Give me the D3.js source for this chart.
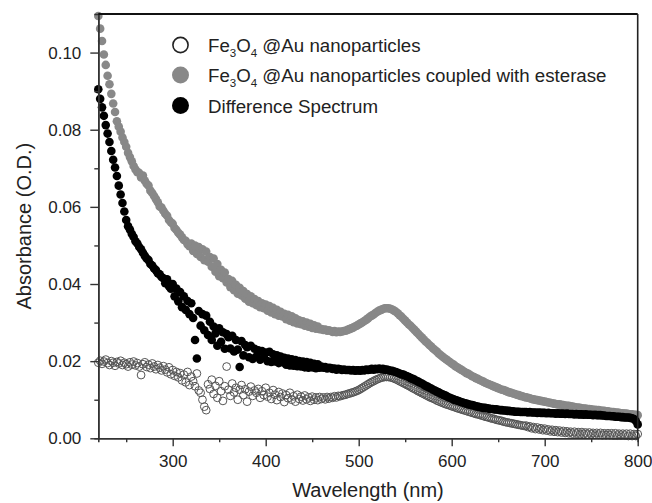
<!DOCTYPE html>
<html><head><meta charset="utf-8">
<script src="https://cdn.jsdelivr.net/npm/d3@7"></script>
<style>body{margin:0;background:#fff}svg{display:block}</style>
</head><body>
<script>
// Wavelength grid (nm)
const wavelengths = [
220,222,224,226,228,230,232,234,236,238,240,242,244,246,248,250,252,254,256,258,
260,262,264,266,268,270,272,274,276,278,280,282,284,286,288,290,292,294,296,298,
300,302,304,306,308,310,312,314,316,318,320,322,324,326,328,330,332,334,336,338,
340,342,344,346,348,350,352,354,356,358,360,362,364,366,368,370,372,374,376,378,
380,382,384,386,388,390,392,394,396,398,400,402,404,406,408,410,412,414,416,418,
420,422,424,426,428,430,432,434,436,438,440,442,444,446,448,450,452,454,456,458,
460,462,464,466,468,470,472,474,476,478,480,482,484,486,488,490,492,494,496,498,
500,502,504,506,508,510,512,514,516,518,520,522,524,526,528,530,532,534,536,538,
540,542,544,546,548,550,552,554,556,558,560,562,564,566,568,570,572,574,576,578,
580,582,584,586,588,590,592,594,596,598,600,602,604,606,608,610,612,614,616,618,
620,622,624,626,628,630,632,634,636,638,640,642,644,646,648,650,652,654,656,658,
660,662,664,666,668,670,672,674,676,678,680,682,684,686,688,690,692,694,696,698,
700,702,704,706,708,710,712,714,716,718,720,722,724,726,728,730,732,734,736,738,
740,742,744,746,748,750,752,754,756,758,760,762,764,766,768,770,772,774,776,778,
780,782,784,786,788,790,792,794,796,798,800];

// Fe3O4@Au nanoparticles (open circles)
const nanoparticles = [
.0196,.0201,.0193,.0199,.0204,.0195,.0190,.0200,.0196,.0188,
.0198,.0194,.0201,.0190,.0196,.0192,.0186,.0197,.0191,.0199,
.0189,.0195,.0186,.0164,.0192,.0197,.0185,.0191,.0182,.0194,
.0186,.0179,.0190,.0183,.0176,.0187,.0178,.0171,.0184,.0166,
.0177,.0162,.0172,.0158,.0169,.0150,.0165,.0145,.0172,.0138,
.0160,.0148,.0135,.0168,.0124,.0118,.0100,.0082,.0073,.0140,
.0128,.0152,.0115,.0136,.0105,.0148,.0122,.0097,.0135,.0186,
.0126,.0110,.0142,.0119,.0131,.0100,.0126,.0138,.0112,.0127,
.0095,.0121,.0134,.0110,.0124,.0118,.0128,.0105,.0122,.0112,
.0131,.0108,.0118,.0102,.0125,.0113,.0099,.0120,.0107,.0116,
.0094,.0112,.0104,.0118,.0100,.0109,.0095,.0113,.0102,.0108,
.0098,.0111,.0101,.0106,.0097,.0108,.0100,.0106,.0099,.0107,
.0102,.0106,.0101,.0107,.0103,.0107,.0105,.0109,.0106,.0110,
.0109,.0111,.0112,.0113,.0115,.0116,.0118,.0119,.0121,.0123,
.0125,.0128,.0131,.0134,.0137,.0140,.0143,.0146,.0148,.0151,
.0153,.0155,.0157,.0158,.0159,.0159,.0159,.0158,.0157,.0155,
.0153,.0151,.0148,.0146,.0143,.0141,.0138,.0136,.0133,.0130,
.0128,.0125,.0122,.0120,.0117,.0115,.0112,.0110,.0107,.0105,
.0103,.0101,.0098,.0096,.0094,.0092,.0090,.0088,.0087,.0085,
.0083,.0082,.0080,.0078,.0077,.0075,.0074,.0072,.0071,.0069,
.0068,.0066,.0065,.0063,.0062,.0061,.0059,.0058,.0056,.0055,
.0054,.0052,.0051,.0050,.0048,.0047,.0046,.0045,.0043,.0042,
.0041,.0040,.0039,.0038,.0037,.0036,.0035,.0034,.0033,.0032,
.0033,.0029,.0031,.0026,.0029,.0024,.0028,.0023,.0026,.0021,
.0025,.0020,.0023,.0018,.0022,.0017,.0021,.0016,.0020,.0015,
.0019,.0014,.0018,.0013,.0017,.0012,.0017,.0012,.0016,.0011,
.0016,.0011,.0015,.0010,.0015,.0010,.0014,.0009,.0014,.0009,
.0014,.0008,.0013,.0008,.0013,.0008,.0013,.0007,.0013,.0007,
.0012,.0007,.0012,.0007,.0012,.0006,.0012,.0006,.0011,.0006,
.0011];

// Fe3O4@Au nanoparticles coupled with esterase (grey)
const coupled = [
.1095,.1062,.1030,.0995,.0968,.0940,.0918,.0893,.0868,.0846,
.0822,.0808,.0795,.0780,.0768,.0756,.0740,.0729,.0718,.0706,
.0697,.0690,.0688,.0676,.0681,.0668,.0660,.0655,.0642,.0636,
.0628,.0620,.0612,.0601,.0598,.0590,.0582,.0577,.0566,.0560,
.0556,.0545,.0540,.0533,.0528,.0521,.0514,.0512,.0503,.0498,
.0505,.0486,.0500,.0478,.0496,.0470,.0490,.0462,.0484,.0458,
.0470,.0445,.0466,.0432,.0452,.0420,.0437,.0415,.0430,.0404,
.0413,.0392,.0408,.0384,.0398,.0375,.0390,.0370,.0382,.0362,
.0374,.0354,.0368,.0350,.0361,.0345,.0356,.0340,.0350,.0337,
.0347,.0331,.0343,.0326,.0338,.0322,.0333,.0318,.0328,.0316,
.0323,.0309,.0320,.0305,.0316,.0301,.0311,.0298,.0306,.0296,
.0303,.0292,.0300,.0289,.0297,.0286,.0293,.0284,.0290,.0283,
.0283,.0281,.0282,.0279,.0280,.0278,.0276,.0278,.0275,.0277,
.0276,.0277,.0278,.0279,.0281,.0283,.0285,.0287,.0290,.0292,
.0295,.0298,.0301,.0304,.0307,.0311,.0315,.0318,.0321,.0325,
.0328,.0331,.0333,.0335,.0337,.0337,.0337,.0336,.0334,.0331,
.0328,.0324,.0319,.0315,.0310,.0305,.0300,.0295,.0291,.0286,
.0281,.0276,.0271,.0266,.0261,.0256,.0251,.0247,.0242,.0238,
.0233,.0229,.0225,.0220,.0216,.0212,.0208,.0205,.0201,.0198,
.0194,.0191,.0187,.0184,.0181,.0178,.0175,.0172,.0169,.0167,
.0164,.0161,.0159,.0156,.0154,.0151,.0149,.0147,.0144,.0142,
.0140,.0138,.0136,.0134,.0132,.0130,.0128,.0126,.0125,.0123,
.0121,.0119,.0118,.0116,.0115,.0113,.0112,.0110,.0109,.0107,
.0106,.0105,.0104,.0102,.0101,.0100,.0099,.0098,.0097,.0096,
.0095,.0094,.0093,.0092,.0091,.0090,.0089,.0088,.0088,.0087,
.0086,.0085,.0084,.0084,.0083,.0082,.0081,.0080,.0080,.0079,
.0078,.0077,.0077,.0076,.0076,.0075,.0074,.0074,.0073,.0073,
.0072,.0071,.0071,.0070,.0070,.0069,.0068,.0068,.0067,.0067,
.0066,.0065,.0065,.0064,.0064,.0063,.0062,.0062,.0061,.0061,
.0060];

// Difference spectrum (black)
const difference = [
.0905,.0880,.0858,.0836,.0812,.0790,.0768,.0745,.0722,.0702,
.0680,.0655,.0632,.0610,.0588,.0566,.0550,.0541,.0530,.0522,
.0511,.0505,.0496,.0490,.0481,.0473,.0466,.0462,.0452,.0448,
.0440,.0436,.0428,.0425,.0418,.0415,.0402,.0412,.0394,.0388,
.0400,.0368,.0388,.0355,.0379,.0340,.0368,.0333,.0356,.0322,
.0350,.0312,.0255,.0207,.0330,.0292,.0322,.0280,.0318,.0268,
.0302,.0255,.0290,.0272,.0240,.0285,.0250,.0275,.0232,.0270,
.0262,.0233,.0266,.0225,.0255,.0230,.0185,.0252,.0215,.0242,
.0236,.0210,.0240,.0206,.0232,.0212,.0228,.0204,.0226,.0210,
.0222,.0200,.0224,.0198,.0218,.0199,.0215,.0195,.0212,.0197,
.0209,.0191,.0207,.0189,.0205,.0188,.0203,.0187,.0200,.0186,
.0199,.0184,.0198,.0183,.0196,.0184,.0193,.0182,.0192,.0183,
.0186,.0183,.0185,.0181,.0183,.0182,.0180,.0181,.0178,.0180,
.0179,.0177,.0178,.0177,.0177,.0177,.0176,.0177,.0175,.0176,
.0176,.0175,.0177,.0176,.0178,.0177,.0178,.0180,.0178,.0180,
.0179,.0181,.0179,.0180,.0178,.0178,.0177,.0175,.0175,.0173,
.0172,.0170,.0168,.0166,.0165,.0163,.0161,.0159,.0156,.0154,
.0152,.0149,.0147,.0144,.0142,.0139,.0136,.0134,.0131,.0129,
.0126,.0124,.0121,.0119,.0116,.0114,.0112,.0110,.0107,.0105,
.0103,.0101,.0099,.0098,.0096,.0094,.0093,.0091,.0090,.0088,
.0087,.0086,.0085,.0083,.0082,.0081,.0080,.0079,.0079,.0078,
.0077,.0076,.0076,.0075,.0075,.0074,.0073,.0073,.0072,.0072,
.0071,.0071,.0070,.0070,.0069,.0069,.0069,.0068,.0068,.0068,
.0068,.0067,.0068,.0067,.0067,.0067,.0066,.0067,.0066,.0066,
.0066,.0065,.0066,.0065,.0065,.0065,.0064,.0065,.0064,.0064,
.0064,.0063,.0064,.0063,.0063,.0063,.0062,.0063,.0062,.0062,
.0062,.0061,.0062,.0061,.0061,.0061,.0060,.0061,.0060,.0060,
.0060,.0059,.0059,.0058,.0058,.0058,.0057,.0057,.0056,.0056,
.0056,.0055,.0055,.0054,.0054,.0054,.0053,.0052,.0050,.0045,
.0036];

const xTicks = [300, 400, 500, 600, 700, 800];
const xMinorTicks = [250, 350, 450, 550, 650, 750];
const yTicks = [0, 0.02, 0.04, 0.06, 0.08, 0.10];
const yMinorTicks = [0.01, 0.03, 0.05, 0.07, 0.09];
const xTitle = "Wavelength (nm)";
const yTitle = "Absorbance (O.D.)";

const W = 652, H = 503;
const L = 98.3, R = 637.7, T = 14, B = 438.3;
const FONT = "'Liberation Sans', Arial, sans-serif";

const x = d3.scaleLinear().domain([220, 800]).range([L, R]);
const y = d3.scaleLinear().domain([0, 0.11]).range([B, T]);

const svg = d3.select("body").append("svg").attr("width", W).attr("height", H)
  .style("font-family", FONT);

// data
function pts(vals) { return wavelengths.map((w, i) => [w, vals[i]]).filter(d => d[1] !== undefined); }
const gData = svg.append("g");
gData.selectAll("circle.open").data(pts(nanoparticles)).join("circle").attr("class", "open")
  .attr("cx", d => x(d[0])).attr("cy", d => y(d[1])).attr("r", 3.9)
  .attr("fill", "none").attr("stroke", "#555").attr("stroke-width", 1);
gData.selectAll("circle.grey").data(pts(coupled)).join("circle").attr("class", "grey")
  .attr("cx", d => x(d[0])).attr("cy", d => y(d[1])).attr("r", 4.3)
  .attr("fill", "#888");
gData.selectAll("circle.black").data(pts(difference)).join("circle").attr("class", "black")
  .attr("cx", d => x(d[0])).attr("cy", d => y(d[1])).attr("r", 4.3)
  .attr("fill", "#000");

// axes
const axisColor = "#333";
function styleAxis(g) {
  g.select(".domain").attr("stroke", axisColor).attr("stroke-width", 1.6);
  g.selectAll(".tick line").attr("stroke", axisColor).attr("stroke-width", 1.4);
  g.selectAll(".tick text").attr("fill", "#222").style("font-size", "17px").style("font-family", FONT);
}
svg.append("g").attr("transform", `translate(0,${B})`)
  .call(d3.axisBottom(x).tickValues(xMinorTicks).tickSize(4).tickFormat(""))
  .call(styleAxis);
svg.append("g").attr("transform", `translate(0,${B})`)
  .call(d3.axisBottom(x).tickValues(xTicks).tickSize(8).tickSizeOuter(0).tickPadding(9).tickFormat(d3.format("d")))
  .call(styleAxis);
svg.append("g").attr("transform", `translate(${L},0)`)
  .call(d3.axisLeft(y).tickValues(yMinorTicks).tickSize(4).tickFormat(""))
  .call(styleAxis);
svg.append("g").attr("transform", `translate(${L},0)`)
  .call(d3.axisLeft(y).tickValues(yTicks).tickSize(8).tickSizeOuter(0).tickPadding(9).tickFormat(d3.format(".2f")))
  .call(styleAxis);

// frame top and right
svg.append("line").attr("x1", L).attr("x2", R).attr("y1", T).attr("y2", T)
  .attr("stroke", "#111").attr("stroke-width", 2);
svg.append("line").attr("x1", R).attr("x2", R).attr("y1", T).attr("y2", B)
  .attr("stroke", "#222").attr("stroke-width", 1.6);

// axis titles
svg.append("text").attr("x", (L + R) / 2).attr("y", 497).attr("text-anchor", "middle")
  .style("font-size", "20px").attr("fill", "#222").text(xTitle);
svg.append("text").attr("transform", `translate(31,${(T + B) / 2}) rotate(-90)`)
  .attr("text-anchor", "middle").style("font-size", "20px").attr("fill", "#222").text(yTitle);

// legend
const legendItems = [
  { parts: [["Fe"], ["3", 1], ["O"], ["4", 1], [" @Au nanoparticles"]], fill: "none", stroke: "#222" },
  { parts: [["Fe"], ["3", 1], ["O"], ["4", 1], [" @Au nanoparticles coupled with esterase"]], fill: "#888", stroke: "none" },
  { parts: [["Difference Spectrum"]], fill: "#000", stroke: "none" }
];
const legendY = [45, 75, 105.5];
legendItems.forEach((it, i) => {
  const cy = legendY[i];
  svg.append("circle").attr("cx", 180.5).attr("cy", cy).attr("r", it.stroke === "none" ? 8.5 : 7.6)
    .attr("fill", it.fill).attr("stroke", it.stroke).attr("stroke-width", 1.6);
  const t = svg.append("text").attr("x", 208).attr("y", cy + 7).style("font-size", "18.7px").attr("fill", "#222");
  let shifted = false;
  it.parts.forEach(p => {
    const ts = t.append("tspan").text(p[0]);
    if (p[1]) { ts.attr("dy", 5).style("font-size", "11.5px"); shifted = true; }
    else if (shifted) { ts.attr("dy", -5); shifted = false; }
  });
});
</script>
</body></html>
